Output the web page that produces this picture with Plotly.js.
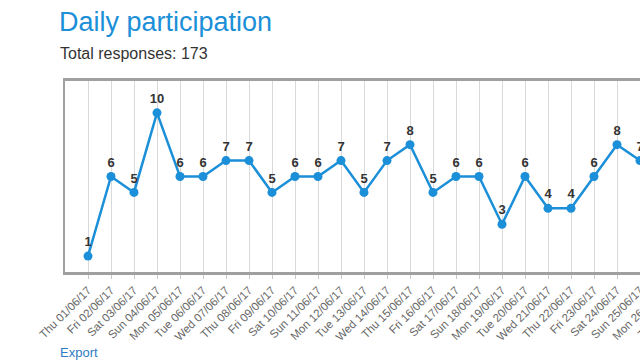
<!DOCTYPE html>
<html>
<head>
<meta charset="utf-8">
<script src="https://cdn.plot.ly/plotly-3.0.1.min.js"></script>
<style>
html, body { margin: 0; padding: 0; width: 640px; height: 363px; overflow: hidden; background: #fff; }
#chart { width: 820px; height: 363px; }
</style>
</head>
<body>
<div id="chart"></div>
<script>
// Category labels (June 2017)
const dates = [
  "Thu 01/06/17", "Fri 02/06/17", "Sat 03/06/17", "Sun 04/06/17", "Mon 05/06/17",
  "Tue 06/06/17", "Wed 07/06/17", "Thu 08/06/17", "Fri 09/06/17", "Sat 10/06/17",
  "Sun 11/06/17", "Mon 12/06/17", "Tue 13/06/17", "Wed 14/06/17", "Thu 15/06/17",
  "Fri 16/06/17", "Sat 17/06/17", "Sun 18/06/17", "Mon 19/06/17", "Tue 20/06/17",
  "Wed 21/06/17", "Thu 22/06/17", "Fri 23/06/17", "Sat 24/06/17", "Sun 25/06/17",
  "Mon 26/06/17", "Tue 27/06/17", "Wed 28/06/17", "Thu 29/06/17", "Fri 30/06/17"
];
// Responses per day (visible part of the chart)
const responses = [1, 6, 5, 10, 6, 6, 7, 7, 5, 6, 6, 7, 5, 7, 8, 5, 6, 6, 3, 6, 4, 4, 6, 8, 7];

const titleText = "Daily participation";
const subtitleText = "Total responses: 173";
const exportText = "Export";

const W = 820, H = 363;
const mL = 65, mT = 81, mB = 91, mR = 40;
const plotW = W - mL - mR, plotH = H - mT - mB;
const blue = "#1b8fd8";
const fontFam = "Liberation Sans, Arial, Helvetica, sans-serif";

const trace = {
  type: "scatter",
  mode: "lines+markers+text",
  x: dates.slice(0, responses.length),
  y: responses,
  text: responses.map(String),
  textposition: "top center",
  textfont: { family: fontFam, size: 13, color: "#333", weight: "bold" },
  line: { color: blue, width: 2.5 },
  marker: { color: blue, size: 9 },
  cliponaxis: false,
  hoverinfo: "x+y"
};

const layout = {
  width: W,
  height: H,
  margin: { l: mL, r: mR, t: mT, b: mB },
  paper_bgcolor: "#fff",
  plot_bgcolor: "#fff",
  showlegend: false,
  font: { family: fontFam },
  title: {
    text: titleText,
    font: { family: fontFam, size: 27, color: blue },
    xref: "container", yref: "container",
    x: 59 / W, xanchor: "left",
    y: 1 - 22 / H, yanchor: "middle"
  },
  xaxis: {
    type: "category",
    categoryorder: "array",
    categoryarray: dates,
    range: [-1, (plotW / 23) - 1],
    showgrid: true,
    gridcolor: "#d9d9d9",
    gridwidth: 1,
    showline: true,
    linecolor: "#a0a0a0",
    linewidth: 3,
    mirror: true,
    ticks: "outside",
    ticklen: 4,
    tickcolor: "#c8c8c8",
    tickangle: -45,
    tickfont: { family: fontFam, size: 11.5, color: "#666" },
    zeroline: false,
    fixedrange: true
  },
  yaxis: {
    range: [0, 12],
    showgrid: false,
    showticklabels: false,
    showline: true,
    linecolor: "#a0a0a0",
    linewidth: 2,
    mirror: true,
    zeroline: false,
    ticks: "",
    fixedrange: true
  },
  annotations: [
    {
      text: subtitleText,
      xref: "paper", yref: "paper",
      x: (58 - mL) / plotW, xanchor: "left",
      y: (H - mB - 53) / plotH, yanchor: "middle",
      showarrow: false,
      font: { family: fontFam, size: 16, color: "#333" }
    },
    {
      text: exportText,
      xref: "paper", yref: "paper",
      x: (58 - mL) / plotW, xanchor: "left",
      y: (H - mB - 352) / plotH, yanchor: "middle",
      showarrow: false,
      font: { family: fontFam, size: 13, color: "#2f7cc4" }
    }
  ]
};

Plotly.newPlot("chart", [trace], layout, { displayModeBar: false, staticPlot: true });
</script>
</body>
</html>
